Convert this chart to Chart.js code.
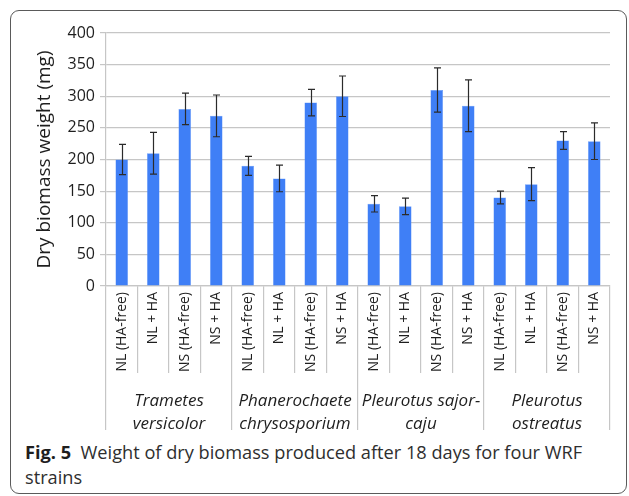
<!DOCTYPE html>
<html lang="en">
<head>
    <meta charset="UTF-8">
    <title>Dry biomass weight</title>
    <script src="https://cdn.jsdelivr.net/npm/chart.js"></script>
    <style>
        body {
            margin: 0;
            background-color: #ffffff;
            width: 629px;
            height: 496px;
            overflow: hidden;
            position: relative;
            font-family: "Open Sans", sans-serif;
        }

        .frame {
            position: absolute;
            left: 10px;
            top: 10px;
            width: 615px;
            height: 482px;
            border: 1.5px solid #5a5a5a;
            border-radius: 9px;
        }

        #chart {
            position: absolute;
            left: 0;
            top: 0;
        }

        .caption {
            position: absolute;
            left: 25px;
            top: 440px;
            font-size: 18.2px;
            line-height: 25px;
            color: #2e2e2e;
            white-space: nowrap;
        }

        .caption b {
            font-weight: 700;
            color: #1e1e1e;
        }
    </style>
</head>
<body>
    <div class="frame"></div>
    <canvas id="chart" width="629" height="440"></canvas>
    <div class="caption"><b>Fig. 5</b>&nbsp; Weight of dry biomass produced after 18 days for four WRF<br>strains</div>

    <script>
        // strains (lower axis) and the four conditions tested on each (upper axis)
        const strains = [
            ['Trametes', 'versicolor'],
            ['Phanerochaete', 'chrysosporium'],
            ['Pleurotus sajor-', 'caju'],
            ['Pleurotus', 'ostreatus']
        ];
        const categories = [
            'NL (HA-free)', 'NL + HA', 'NS (HA-free)', 'NS + HA',
            'NL (HA-free)', 'NL + HA', 'NS (HA-free)', 'NS + HA',
            'NL (HA-free)', 'NL + HA', 'NS (HA-free)', 'NS + HA',
            'NL (HA-free)', 'NL + HA', 'NS (HA-free)', 'NS + HA'
        ];
        // dry biomass weight (mg) and error bar half-height
        const weights = [200, 210, 280, 269, 190, 170, 290, 300, 130, 126, 310, 285, 140, 161, 230, 229];
        const errors = [24, 33, 25, 33, 15, 21, 21, 32, 13, 13, 35, 41, 10, 26, 14, 29];
        const yTicks = [0, 50, 100, 150, 200, 250, 300, 350, 400];

        const gridColor = '#c6c6c6';

        const errorBars = {
            id: 'errorBars',
            afterDatasetsDraw(chart) {
                const ctx = chart.ctx;
                const yScale = chart.scales.y;
                const meta = chart.getDatasetMeta(0);
                ctx.save();
                ctx.strokeStyle = '#2b2b2b';
                ctx.lineWidth = 1.2;
                meta.data.forEach((bar, i) => {
                    const x = Math.round(bar.x) + 0.5;
                    const top = yScale.getPixelForValue(weights[i] + errors[i]);
                    const bottom = yScale.getPixelForValue(weights[i] - errors[i]);
                    ctx.beginPath();
                    ctx.moveTo(x, top);
                    ctx.lineTo(x, bottom);
                    ctx.moveTo(x - 3.5, top);
                    ctx.lineTo(x + 3.5, top);
                    ctx.moveTo(x - 3.5, bottom);
                    ctx.lineTo(x + 3.5, bottom);
                    ctx.stroke();
                });
                ctx.restore();
            }
        };

        new Chart(document.getElementById('chart'), {
            type: 'bar',
            data: {
                labels: categories,
                datasets: [{
                    data: weights,
                    backgroundColor: '#3f7ff6',
                    borderColor: '#6a9cf8',
                    borderWidth: 0.5,
                    barPercentage: 0.4,
                    categoryPercentage: 1.0
                }]
            },
            options: {
                responsive: false,
                animation: false,
                devicePixelRatio: 1,
                layout: {
                    padding: { left: 29, top: 33, right: 19, bottom: 4 }
                },
                plugins: {
                    legend: { display: false },
                    tooltip: { enabled: false }
                },
                scales: {
                    y: {
                        min: 0,
                        max: 400,
                        afterBuildTicks: scale => {
                            scale.ticks = yTicks.map(v => ({ value: v }));
                        },
                        afterFit: scale => {
                            scale.width = 77;
                        },
                        grid: {
                            color: gridColor,
                            lineWidth: 1.2,
                            tickLength: 6
                        },
                        border: { color: gridColor, width: 1.2 },
                        ticks: {
                            padding: 5,
                            color: '#1e1e1e',
                            font: { family: 'Open Sans', size: 16 }
                        },
                        title: {
                            display: true,
                            text: 'Dry biomass weight (mg)',
                            color: '#1e1e1e',
                            padding: 4,
                            font: { family: 'Open Sans', size: 19 }
                        }
                    },
                    x: {
                        position: 'bottom',
                        afterFit: scale => {
                            scale.height = 87;
                        },
                        grid: {
                            offset: true,
                            drawOnChartArea: false,
                            color: gridColor,
                            lineWidth: 1.2,
                            tickLength: 87
                        },
                        border: { color: gridColor, width: 1.2 },
                        ticks: {
                            minRotation: 90,
                            maxRotation: 90,
                            autoSkip: false,
                            padding: -81,
                            color: '#1e1e1e',
                            font: { family: 'Open Sans', size: 14 }
                        }
                    },
                    x2: {
                        type: 'category',
                        position: 'bottom',
                        labels: strains,
                        offset: true,
                        afterFit: scale => {
                            scale.height = 63;
                        },
                        grid: {
                            offset: true,
                            drawOnChartArea: false,
                            color: gridColor,
                            lineWidth: 1.2,
                            tickLength: 57
                        },
                        border: { display: false },
                        ticks: {
                            maxRotation: 0,
                            autoSkip: false,
                            padding: -40,
                            color: '#1e1e1e',
                            font: { family: 'Open Sans', size: 17, style: 'italic', lineHeight: 1.35 }
                        }
                    }
                }
            },
            plugins: [errorBars]
        });
    </script>
</body>
</html>
